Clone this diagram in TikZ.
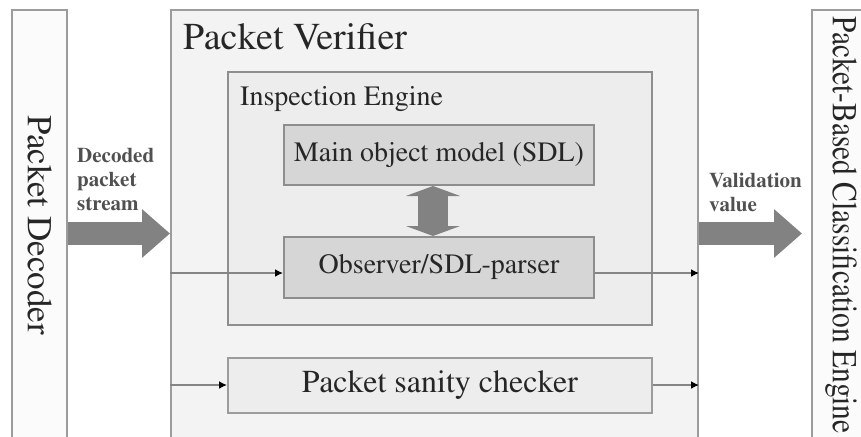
\documentclass[tikz,border=0pt]{standalone}
\usepackage[T1]{fontenc}
\renewcommand{\rmdefault}{ptm}
\usetikzlibrary{arrows.meta,calc}
\definecolor{edgegray}{HTML}{9C9C9C}
\definecolor{innergray}{HTML}{8E8E8E}
\definecolor{pagefill}{HTML}{FBFBFB}
\definecolor{verfill}{HTML}{F3F3F3}
\definecolor{engfill}{HTML}{EDEDED}
\definecolor{partfill}{HTML}{D6D6D6}
\definecolor{fatgray}{HTML}{828282}
\definecolor{txt}{HTML}{262626}
\definecolor{smalltxt}{HTML}{505050}
\definecolor{wire}{HTML}{858585}
\tikzset{
  sidebox/.style={draw=edgegray, line width=2pt, fill=pagefill, inner sep=0pt,
    text=txt, font=\fontsize{35}{38}\selectfont},
  outerbox/.style={draw=edgegray, line width=2pt, fill=verfill, inner sep=0pt},
  enginebox/.style={draw=innergray, line width=2pt, fill=engfill, inner sep=0pt},
  partbox/.style={draw=innergray, line width=2pt, fill=partfill, inner sep=0pt,
    text=txt, font=\fontsize{28}{32}\selectfont},
  checkbox/.style={draw=edgegray, line width=2pt, fill=engfill, inner sep=0pt,
    text=txt, font=\fontsize{32}{34}\selectfont},
  title/.style={inner sep=0pt, text=txt},
  smalllabel/.style={inner sep=0pt, align=left, text=smalltxt,
    font=\fontsize{21}{24}\selectfont\bfseries},
  fatarrow/.style={draw=fatgray, line width=23pt,
    -{Triangle[length=28pt,width=47pt]}},
  fatdouble/.style={draw=fatgray, line width=30pt,
    {Triangle[length=10pt,width=54pt]}-{Triangle[length=10pt,width=54pt]}},
  flow/.style={draw=wire, line width=1.6pt,
    -{Latex[length=8pt,width=8pt,black]}}
}
\begin{document}
\begin{tikzpicture}[x=1pt,y=-1pt]
  \useasboundingbox[fill=white] (0,0) rectangle (861,436);

  % side blocks
  \node[sidebox, minimum width=55pt, minimum height=430pt] (dec) at (39.5,225)
    {\rotatebox{-90}{Packet Decoder}};
  \node[sidebox, minimum width=58pt, minimum height=430pt] (cls) at (841,225)
    {\rotatebox{-90}{\scalebox{0.84}[1]{Packet-Based Classification Engine}}};

  % verifier and its parts
  \node[outerbox, minimum width=527pt, minimum height=430pt] (ver) at (434.5,225) {};
  \node[title, anchor=base west, font=\fontsize{38}{40}\selectfont] (vertitle)
    at (183,50) {Packet Verifier};

  \node[enginebox, minimum width=424pt, minimum height=253pt] (eng) at (440,198.5) {};
  \node[title, anchor=base west, font=\fontsize{28}{32}\selectfont] (engtitle)
    at (240,105) {Inspection Engine};

  \node[partbox, minimum width=310pt, minimum height=60pt] (model) at (439,155)
    {Main object model (SDL)};
  \node[partbox, minimum width=310pt, minimum height=61pt] (obs) at (439,267.5)
    {Observer/SDL-parser};
  \node[checkbox, minimum width=424pt, minimum height=55pt] (san) at (440,385.5)
    {Packet sanity checker};

  % model <-> parser exchange
  \coordinate (xch) at (433,0);
  \draw[fatdouble] (xch |- model.south) -- (xch |- obs.north);

  % stream into and out of the verifier
  \coordinate (inA) at (ver.west |- 0,273);
  \coordinate (outA) at (ver.east |- 0,273);
  \coordinate (inB) at (ver.west |- 0,385);
  \coordinate (outB) at (ver.east |- 0,385);
  \draw[flow] (inA) -- (inA -| obs.west);
  \draw[flow] (obs.east |- outA) -- (outA);
  \draw[flow] (inB) -- (inB -| san.west);
  \draw[flow] (san.east |- outB) -- (outB);

  % fat arrows between the stages
  \coordinate (fatL) at (dec.east |- 0,233.5);
  \coordinate (fatR) at (ver.east |- 0,233.5);
  \coordinate (tipR) at (802,233.5);
  \draw[fatarrow] (fatL) -- (fatL -| ver.west);
  \draw[fatarrow] (fatR) -- (tipR);

  \node[smalllabel, anchor=west] (declabel) at (77,179)
    {Decoded\\packet\\stream};
  \node[smalllabel, anchor=west] (vallabel) at (709,192)
    {Validation\\value};
\end{tikzpicture}
\end{document}
